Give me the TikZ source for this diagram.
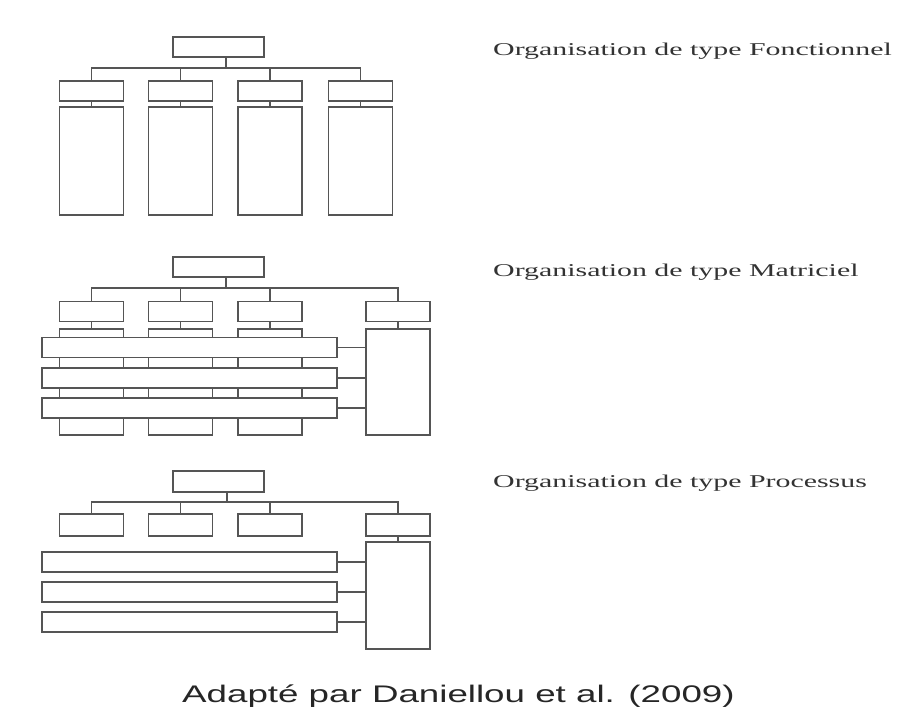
\documentclass[tikz,border=0pt]{standalone}
\usepackage{fontspec}
\usepackage{graphicx}
\setmainfont{Liberation Serif}
\newfontfamily\capfont{Liberation Sans}
\definecolor{linegray}{HTML}{555555}
\definecolor{textgray}{HTML}{333333}
\begin{document}
\begin{tikzpicture}[x=1pt,y=-1pt,
  box/.style={draw=linegray,line width=1.4pt,fill=white,inner sep=0pt,outer sep=0pt,rectangle},
  conn/.style={draw=linegray,line width=1.4pt},
  lbl/.style={anchor=base west,inner sep=0pt,text=textgray,font=\fontsize{18}{20}\selectfont}]
\useasboundingbox[fill=white] (0,0) rectangle (920,722);

% ---------- Section 1 : Fonctionnel ----------
\node[box,minimum width=91pt,minimum height=20pt] (T1) at (218.5,47) {};
\foreach \i/\x in {1/91.5,2/180.5,3/270,4/360.5}{
  \node[box,minimum width=64pt,minimum height=20pt] (A1\i) at (\x,91) {};
  \node[box,minimum width=64pt,minimum height=108pt] (B1\i) at (\x,161) {};
}
\coordinate (h1) at (226,68);
\draw[conn] (h1) -- (h1 |- T1.south);
\foreach \i in {1,2,3,4}{
  \draw[conn] (h1) -| (A1\i.north);
  \draw[conn] (A1\i.south) -- (B1\i.north);
}
\node[lbl] (L1) at (493,56) {\scalebox{1.66}[1]{Organisation de type Fonctionnel}};

% ---------- Section 2 : Matriciel ----------
\node[box,minimum width=91pt,minimum height=20pt] (T2) at (218.5,267) {};
\foreach \i/\x in {1/91.5,2/180.5,3/270}{
  \node[box,minimum width=64pt,minimum height=20pt] (A2\i) at (\x,311.5) {};
  \node[box,minimum width=64pt,minimum height=106pt] (C2\i) at (\x,382) {};
}
\node[box,minimum width=64pt,minimum height=20pt] (A24) at (398,311.5) {};
\node[box,minimum width=64pt,minimum height=106pt] (R2) at (398,382) {};
\coordinate (h2) at (226,288);
\draw[conn] (h2) -- (h2 |- T2.south);
\foreach \i in {1,2,3}{
  \draw[conn] (h2) -| (A2\i.north);
  \draw[conn] (A2\i.south) -- (C2\i.north);
}
\draw[conn] (h2) -| (A24.north);
\draw[conn] (A24.south) -- (R2.north);
\foreach \j/\y in {1/347.5,2/378,3/408}{
  \node[box,minimum width=295pt,minimum height=20pt] (M2\j) at (189.5,\y) {};
  \draw[conn] (M2\j.east) -- (R2.west |- M2\j.east);
}
\node[lbl] (L2) at (493,276) {\scalebox{1.66}[1]{Organisation de type Matriciel}};

% ---------- Section 3 : Processus ----------
\node[box,minimum width=91pt,minimum height=21pt] (T3) at (218.5,481.5) {};
\foreach \i/\x in {1/91.5,2/180.5,3/270,4/398}{
  \node[box,minimum width=64pt,minimum height=22pt] (A3\i) at (\x,525) {};
}
\node[box,minimum width=64pt,minimum height=107pt] (R3) at (398,595.5) {};
\coordinate (h3) at (227,502);
\draw[conn] (h3) -- (h3 |- T3.south);
\foreach \i in {1,2,3,4}{
  \draw[conn] (h3) -| (A3\i.north);
}
\draw[conn] (A34.south) -- (R3.north);
\foreach \j/\y in {1/562,2/592,3/622}{
  \node[box,minimum width=295pt,minimum height=20pt] (P3\j) at (189.5,\y) {};
  \draw[conn] (P3\j.east) -- (R3.west |- P3\j.east);
}
\node[lbl] (L3) at (493,487) {\scalebox{1.66}[1]{Organisation de type Processus}};

% ---------- Caption ----------
\node[anchor=base west,inner sep=0pt,text=black!85,font=\capfont\fontsize{24}{26}\selectfont] (cap) at (182,702)
  {\scalebox{1.53}[1]{Adapté par Daniellou et al. (2009)}};
\end{tikzpicture}
\end{document}
